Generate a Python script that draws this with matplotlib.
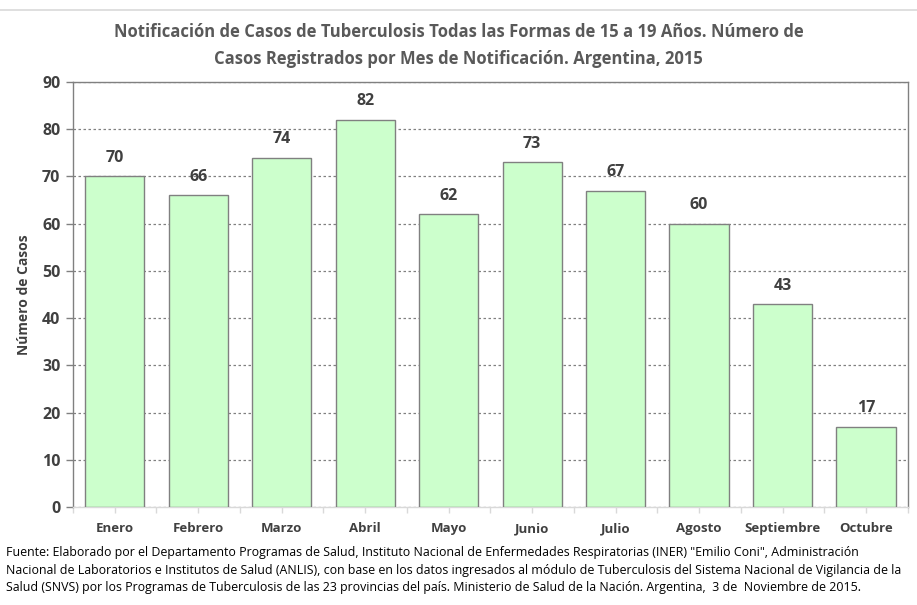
import matplotlib
matplotlib.use("Agg")
import matplotlib.pyplot as plt
from matplotlib.lines import Line2D

months = ["Enero", "Febrero", "Marzo", "Abril", "Mayo", "Junio", "Julio",
          "Agosto", "Septiembre", "Octubre"]
cases = [70, 66, 74, 82, 62, 73, 67, 60, 43, 17]
yticks = list(range(0, 91, 10))

title = ("Notificación de Casos de Tuberculosis Todas las Formas de 15 a 19 Años. Número de\n"
         "Casos Registrados por Mes de Notificación. Argentina, 2015")
ylabel = "Número de Casos"
source = ("Fuente: Elaborado por el Departamento Programas de Salud, Instituto Nacional de Enfermedades Respiratorias (INER) \"Emilio Coni\", Administración\n"
          "Nacional de Laboratorios e Institutos de Salud (ANLIS), con base en los datos ingresados al módulo de Tuberculosis del Sistema Nacional de Vigilancia de la\n"
          "Salud (SNVS) por los Programas de Tuberculosis de las 23 provincias del país. Ministerio de Salud de la Nación. Argentina,  3 de  Noviembre de 2015.")

plt.rcParams['font.family'] = ['Open Sans', 'DejaVu Sans']
txt = '#404040'

fig = plt.figure(figsize=(9.17, 6.05), dpi=100)
ax = fig.add_axes([0.0796, 0.162, 0.9104, 0.7025])

x = list(range(len(months)))
ax.bar(x, cases, width=0.71, color='#ccffcc', edgecolor='#808080', linewidth=1.0, zorder=3)
for xi, v in zip(x, cases):
    ax.text(xi, v + 2.2, str(v), ha='center', va='bottom', fontsize=11.5, fontweight='bold', color=txt, zorder=4)

ax.set_xlim(-0.5, len(months) - 0.5)
ax.set_ylim(0, 90)
ax.set_yticks(yticks)
ax.set_yticklabels([str(t) for t in yticks], fontsize=11.5, fontweight='bold', color=txt)
ax.set_xticks(x)
ax.set_xticklabels(months, fontsize=9.5, fontweight='bold', color=txt)
ax.tick_params(axis='x', which='major', length=4, color='#d9d9d9', width=1, pad=7)
ax.tick_params(axis='y', length=5, color='#808080', width=1, pad=4)
# minor ticks between categories
ax.set_xticks([i - 0.5 for i in range(len(months) + 1)], minor=True)
ax.tick_params(axis='x', which='minor', length=4, color='#d9d9d9', width=1)

ax.grid(axis='y', linestyle=(0, (2, 2)), color='#808080', linewidth=0.9, zorder=0)
for s in ['left', 'right', 'top']:
    ax.spines[s].set_color('#808080')
    ax.spines[s].set_linewidth(1.0)
ax.spines['bottom'].set_color('#d9d9d9')
ax.spines['bottom'].set_linewidth(1.0)

ax.set_ylabel(ylabel, fontsize=10, fontweight='bold', color=txt, labelpad=8)

fig.text(0.5, 0.925, title, ha='center', va='center', fontsize=12, fontweight='bold',
         color='#595959', linespacing=1.6)
fig.text(0.006, 1 - 546 / 605, source, ha='left', va='top', fontsize=8.9, color='black', linespacing=1.47)

fig.add_artist(Line2D([0, 1], [1 - 10 / 605, 1 - 10 / 605], color='#d9d9d9', linewidth=1.2,
                      transform=fig.transFigure))

fig.savefig('out.png', dpi=100)
